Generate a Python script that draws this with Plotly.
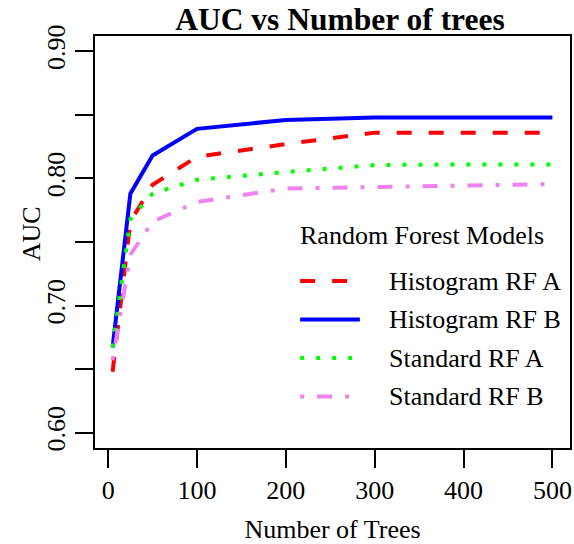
import plotly.graph_objects as go

# ---- data ----
n_trees = [5, 25, 50, 100, 200, 300, 400, 500]
hist_rf_a = [0.648, 0.766, 0.795, 0.817, 0.827, 0.836, 0.836, 0.836]
hist_rf_b = [0.667, 0.788, 0.818, 0.839, 0.846, 0.848, 0.848, 0.848]
std_rf_a = [0.667, 0.768, 0.788, 0.799, 0.805, 0.8105, 0.811, 0.811]
std_rf_b = [0.657, 0.740, 0.766, 0.7815, 0.792, 0.793, 0.794, 0.7955]
series_names = ["Histogram RF A", "Histogram RF B", "Standard RF A", "Standard RF B"]
x_ticks = [0, 100, 200, 300, 400, 500]
y_ticks = [0.60, 0.65, 0.70, 0.75, 0.80, 0.85, 0.90]
y_tick_text = ["0.60", "", "0.70", "", "0.80", "", "0.90"]

series_values = [hist_rf_a, hist_rf_b, std_rf_a, std_rf_b]
colors = ["#FF0000", "#0000FF", "#00FF00", "#EE82EE"]
dashes = ["15px,17px", "solid", "4px,12px", "4px,13px,15px,13px"]

FONT = "Liberation Serif"
W, H = 574, 544
ML, MR, MT, MB = 95, 2, 36, 96
PW, PH = W - ML - MR, H - MT - MB


def px_x(p):
    return (p - ML) / PW


def px_y(p):
    return (H - MB - p) / PH


fig = go.Figure()
for name, vals, col, dsh in zip(series_names, series_values, colors, dashes):
    fig.add_trace(go.Scatter(x=n_trees, y=vals, mode="lines", name=name,
                             line=dict(color=col, width=4, dash=dsh),
                             showlegend=False))

# manual legend (R-style)
annotations = [dict(text="Random Forest Models", xref="paper", yref="paper",
                    x=px_x(299), y=px_y(235), xanchor="left", yanchor="middle",
                    showarrow=False, font=dict(family=FONT, size=26, color="black"))]
shapes = []
for i, (name, col, dsh) in enumerate(zip(series_names, colors, dashes)):
    yc = 281 + i * 38.5
    shapes.append(dict(type="line", xref="paper", yref="paper",
                       x0=px_x(301), x1=px_x(361), y0=px_y(yc), y1=px_y(yc),
                       line=dict(color=col, width=4, dash=dsh)))
    annotations.append(dict(text=name, xref="paper", yref="paper",
                            x=px_x(388), y=px_y(yc), xanchor="left", yanchor="middle",
                            showarrow=False,
                            font=dict(family=FONT, size=26, color="black")))

# y-axis title placed like R's mtext
annotations.append(dict(text="AUC", xref="paper", yref="paper",
                        x=px_x(31), y=px_y(234), xanchor="center", yanchor="middle",
                        textangle=-90, showarrow=False,
                        font=dict(family=FONT, size=26, color="black")))

fig.update_layout(
    width=W, height=H,
    margin=dict(l=ML, r=MR, t=MT, b=MB),
    paper_bgcolor="white", plot_bgcolor="white",
    font=dict(family=FONT, size=26, color="black"),
    title=dict(text="<b>AUC vs Number of trees</b>", x=(340) / W, xanchor="center",
               y=1 - 19 / H, yanchor="middle",
               font=dict(family=FONT, size=31.5, color="black")),
    xaxis=dict(range=[-14.8, 519.8], tickvals=x_ticks, ticks="outside",
               ticklen=18, tickwidth=2, tickcolor="black",
               showline=True, linecolor="black", linewidth=2, mirror=True,
               showgrid=False, zeroline=False,
               title=dict(text="Number of Trees", standoff=16,
                          font=dict(family=FONT, size=26)),
               tickfont=dict(family=FONT, size=26)),
    yaxis=dict(range=[0.588, 0.912], tickvals=y_ticks, ticktext=y_tick_text,
               ticks="outside", ticklen=18, tickwidth=2, tickcolor="black",
               tickangle=-90,
               showline=True, linecolor="black", linewidth=2, mirror=True,
               showgrid=False, zeroline=False,
               tickfont=dict(family=FONT, size=26)),
    shapes=shapes, annotations=annotations,
)

fig.write_html("out.html")
